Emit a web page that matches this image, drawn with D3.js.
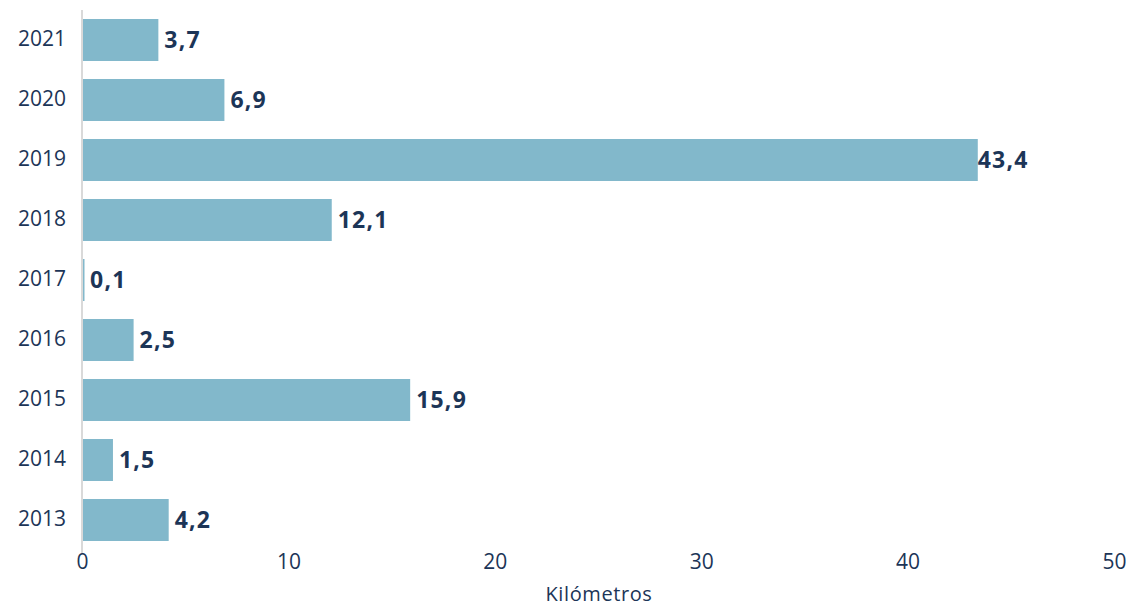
<!DOCTYPE html>
<html><head><meta charset="utf-8">
<script src="https://cdn.jsdelivr.net/npm/d3@7"></script>
<style>body{margin:0;background:#fff}svg{display:block}text{font-family:"Open Sans",Lato,sans-serif}</style>
</head><body><svg id="c" width="1126" height="608"></svg>
<script>
const years = ["2021","2020","2019","2018","2017","2016","2015","2014","2013"];
const km = [3.7, 6.9, 43.4, 12.1, 0.1, 2.5, 15.9, 1.5, 4.2];
const xTicks = [0, 10, 20, 30, 40, 50];
const xTitle = "Kilómetros";

const svg = d3.select("#c");
const x = d3.scaleLinear().domain([0, 50]).range([82, 1114]);
const y = d3.scaleBand().domain(years).range([10, 550]).paddingInner(0.3).paddingOuter(0.15);
const navy = "#1c3557";
const fmt = v => d3.format(".1f")(v).replace(".", ",");

svg.selectAll("rect.bar").data(years).join("rect").attr("class","bar")
  .attr("x", x(0) + 1).attr("y", d => y(d))
  .attr("width", (d,i) => Math.max(1.5, x(km[i]) - x(0) - 1))
  .attr("height", y.bandwidth()).attr("fill", "#82b8cb");

svg.append("line").attr("x1", x(0)).attr("x2", x(0)).attr("y1", 10).attr("y2", 553)
  .attr("stroke", "#d9d9d9").attr("stroke-width", 2);

svg.selectAll("text.yl").data(years).join("text").attr("class","yl")
  .attr("x", 66).attr("y", d => y(d) + y.bandwidth()/2 - 2).attr("dy", "0.36em")
  .attr("text-anchor", "end").attr("font-size", 21).attr("fill", navy).text(d => d);

svg.selectAll("text.vl").data(years).join("text").attr("class","vl")
  .attr("x", (d,i) => x(km[i]) + (km[i] > 40 ? 0 : 6))
  .attr("y", d => y(d) + y.bandwidth()/2).attr("dy", "0.36em")
  .attr("font-size", 23).attr("font-weight", 700).attr("letter-spacing", 1.2).attr("fill", navy)
  .text((d,i) => fmt(km[i]));

const xa = svg.append("g").attr("transform", "translate(0,553)")
  .call(d3.axisBottom(x).tickValues(xTicks).tickSize(0).tickPadding(1).tickFormat(d3.format("d")));
xa.select(".domain").remove();
xa.selectAll("text").attr("font-size", 21).attr("fill", navy).style("font-family","'Open Sans',sans-serif");

svg.append("text").attr("x", 599).attr("y", 601).attr("text-anchor", "middle")
  .attr("font-size", 20).attr("letter-spacing", 0.6).attr("fill", navy).text(xTitle);
</script></body></html>
